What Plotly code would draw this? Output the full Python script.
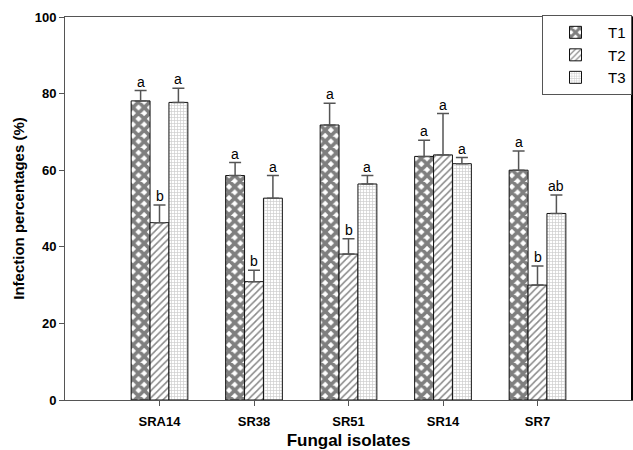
import plotly.graph_objects as go

categories = ["SRA14", "SR38", "SR51", "SR14", "SR7"]
series_names = ["T1", "T2", "T3"]
t1_values = [78.1, 58.6, 71.8, 63.6, 60.0]
t1_errors = [2.7, 3.4, 5.7, 4.2, 5.0]
t2_values = [46.3, 30.9, 38.1, 64.0, 30.0]
t2_errors = [4.6, 3.0, 4.0, 10.8, 5.0]
t3_values = [77.7, 52.7, 56.4, 61.7, 48.7]
t3_errors = [3.7, 5.9, 2.2, 1.6, 4.8]
t1_letters = ["a", "a", "a", "a", "a"]
t2_letters = ["b", "b", "b", "a", "b"]
t3_letters = ["a", "a", "a", "a", "ab"]
y_ticks = [0, 20, 40, 60, 80, 100]

values = [t1_values, t2_values, t3_values]
errors = [t1_errors, t2_errors, t3_errors]
letters = [t1_letters, t2_letters, t3_letters]
patterns = [
    dict(shape="x", fgcolor="black", bgcolor="white", size=8, solidity=0.7),
    dict(shape="/", fgcolor="#111111", bgcolor="white", size=5, solidity=0.3),
    dict(shape="+", fgcolor="#999999", bgcolor="white", size=3, solidity=0.4),
]
offsets = [-0.2, 0.0, 0.2]
FONT = "Liberation Sans, Arial"

xpos = list(range(len(categories)))
fig = go.Figure()
for k in range(3):
    fig.add_trace(go.Bar(
        x=xpos, y=values[k], name=series_names[k],
        marker=dict(color="white", pattern=patterns[k],
                    line=dict(color="#111111", width=1)),
        error_y=dict(type="data", array=errors[k], arrayminus=[0]*5,
                     symmetric=False, color="#555555", thickness=1.5, width=6),
    ))
    for i in range(len(categories)):
        fig.add_annotation(
            x=xpos[i] + offsets[k], y=values[k][i] + errors[k][i],
            text=letters[k][i], showarrow=False, yanchor="bottom",
            yshift=-1,
            font=dict(family=FONT, size=14, color="black"),
        )

# right-hand frame line (black, heavier than the left axis)
fig.add_shape(type="line", xref="paper", yref="paper", x0=1, x1=1, y0=0, y1=1,
              line=dict(color="black", width=2))

fig.update_layout(
    width=633, height=450,
    margin=dict(l=65, r=1, t=17, b=50),
    paper_bgcolor="white", plot_bgcolor="white",
    barmode="group", bargap=0.4, bargroupgap=0,
    font=dict(family=FONT, color="black"),
    showlegend=True,
    legend=dict(x=1.0, y=1.005, xanchor="right", yanchor="top",
                bordercolor="#555555", borderwidth=1, bgcolor="white",
                font=dict(size=15), tracegroupgap=0,
                itemwidth=55),
    xaxis=dict(
        range=[-1, 5], tickmode="array", tickvals=xpos, ticktext=categories,
        showline=True, linecolor="#555555", linewidth=1, mirror=True,
        ticks="outside", ticklen=5, tickcolor="#555555",
        tickfont=dict(size=13, family=FONT, weight="bold"),
        ticklabelstandoff=4,
        showgrid=False, zeroline=False,
        title=dict(text="<b>Fungal isolates</b>", font=dict(size=17), standoff=6),
    ),
    yaxis=dict(
        range=[0, 100], tickmode="array", tickvals=y_ticks,
        showline=True, linecolor="#555555", linewidth=1, mirror=True,
        ticks="outside", ticklen=5, tickcolor="#555555",
        tickfont=dict(size=13, family=FONT, weight="bold"),
        showgrid=False, zeroline=False,
        title=dict(text="<b>Infection percentages (%)</b>", font=dict(size=15), standoff=6),
    ),
)

fig.write_html("out.html")
